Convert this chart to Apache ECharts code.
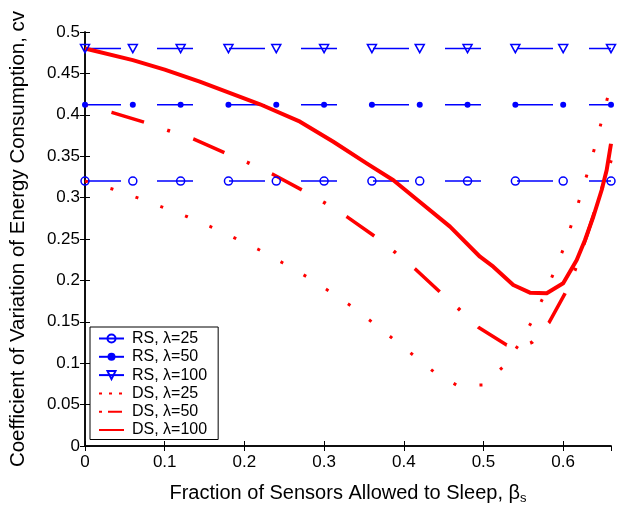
<!DOCTYPE html>
<html>
<head>
<meta charset="utf-8">
<script src="https://cdn.jsdelivr.net/npm/echarts@6/dist/echarts.min.js"></script>
<style>
html,body{margin:0;padding:0;background:#fff;}
#chart{width:621px;height:508px;}
</style>
</head>
<body>
<div id="chart"></div>
<script>
// ---- data ----
const seriesNames = ['RS, λ=25', 'RS, λ=50', 'RS, λ=100', 'DS, λ=25', 'DS, λ=50', 'DS, λ=100'];
const xTickValues = [0, 0.1, 0.2, 0.3, 0.4, 0.5, 0.6];
const yTickValues = [0, 0.05, 0.1, 0.15, 0.2, 0.25, 0.3, 0.35, 0.4, 0.45, 0.5];

const xRS = [0, 0.06, 0.12, 0.18, 0.24, 0.30, 0.36, 0.42, 0.48, 0.54, 0.60, 0.66];
const rs25 = [0.32, 0.32, 0.32, 0.32, 0.32, 0.32, 0.32, 0.32, 0.32, 0.32, 0.32, 0.32];
const rs50 = [0.412, 0.412, 0.412, 0.412, 0.412, 0.412, 0.412, 0.412, 0.412, 0.412, 0.412, 0.412];
const rs100 = [0.48, 0.48, 0.48, 0.48, 0.48, 0.48, 0.48, 0.48, 0.48, 0.48, 0.48, 0.48];

const xDS25 = [0, 0.0343, 0.0656, 0.0970, 0.1284, 0.1593, 0.1895, 0.2196, 0.2484, 0.2782, 0.3061, 0.3338, 0.3605, 0.3868, 0.4128, 0.4391, 0.4676, 0.4997, 0.5245, 0.5437, 0.5605, 0.5747, 0.5881, 0.6006, 0.6110, 0.6211, 0.6307, 0.6399, 0.6483, 0.6566, 0.66];
const ds25 = [0.32, 0.3104, 0.2999, 0.2886, 0.2769, 0.2641, 0.2504, 0.2364, 0.2210, 0.2045, 0.1872, 0.1691, 0.1494, 0.1292, 0.1091, 0.0885, 0.0728, 0.0737, 0.0954, 0.1216, 0.1501, 0.1791, 0.2089, 0.2388, 0.2693, 0.2999, 0.3306, 0.3615, 0.3929, 0.4243, 0.437];

const xDS50 = [0, 0.0335, 0.0744, 0.1045, 0.1359, 0.1757, 0.2049, 0.235, 0.2726, 0.3002, 0.3284, 0.3639, 0.389, 0.414, 0.4454, 0.4696, 0.494, 0.5291, 0.545, 0.5605, 0.5822, 0.6022, 0.615, 0.63, 0.645, 0.66];
const ds50 = [0.412, 0.403, 0.391, 0.381, 0.371, 0.354, 0.342, 0.3285, 0.309, 0.294, 0.277, 0.253, 0.234, 0.214, 0.186, 0.165, 0.143, 0.122, 0.119, 0.125, 0.149, 0.184, 0.213, 0.255, 0.300, 0.345];

const xDS100 = [0, 0.06, 0.1, 0.144, 0.2196, 0.2698, 0.3116, 0.3534, 0.387, 0.4172, 0.458, 0.4956, 0.5123, 0.5374, 0.5583, 0.5793, 0.600, 0.617, 0.6274, 0.6378, 0.6483, 0.6546, 0.66];
const ds100 = [0.48, 0.466, 0.4545, 0.440, 0.4127, 0.3917, 0.3675, 0.3414, 0.321, 0.2971, 0.2649, 0.2286, 0.2166, 0.1944, 0.1852, 0.1844, 0.1965, 0.2246, 0.2488, 0.2769, 0.3092, 0.3333, 0.365];

// ---- chart ----
const FONT = '"Liberation Sans", Arial, Helvetica, sans-serif';
const BLUE = '#0000ff';
const RED = '#ff0000';
const pairs = (xs, ys) => xs.map((x, i) => [x, ys[i]]);

const chart = echarts.init(document.getElementById('chart'), null, {renderer: 'canvas'});

const axisLineStyle = {color: '#000', width: 1.5};
const axisCommonX = {
  type: 'value', min: 0, max: 0.66, interval: 0.1,
  axisLine: {show: true, lineStyle: axisLineStyle},
  axisTick: {show: true, inside: true, length: 5, lineStyle: {color: '#000', width: 1}},
  splitLine: {show: false}
};
const axisCommonY = {
  type: 'value', min: 0, max: 0.5, interval: 0.05,
  axisLine: {show: true, lineStyle: axisLineStyle},
  axisTick: {show: true, inside: true, length: 5, lineStyle: {color: '#000', width: 1}},
  splitLine: {show: false}
};

const option = {
  animation: false,
  backgroundColor: '#fff',
  grid: {left: 85, right: 10, top: 32, bottom: 62, containLabel: false, outerBoundsMode: 'none'},
  xAxis: [
    Object.assign({}, axisCommonX, {
      position: 'bottom',
      axisLabel: {show: true, color: '#000', fontSize: 17, fontFamily: FONT, margin: 8, showMaxLabel: false,
        formatter: v => (xTickValues.some(t => Math.abs(t - v) < 1e-9) ? String(+v.toFixed(2)) : '')},
      name: '{a|Fraction of Sensors Allowed to Sleep, β}{s|s}',
      nameLocation: 'middle', nameGap: 36,
      nameTextStyle: {color: '#000', fontSize: 20, fontFamily: FONT,
        rich: {a: {fontSize: 20, fontFamily: FONT, color: '#000'},
               s: {fontSize: 13, fontFamily: FONT, color: '#000', padding: [10, 0, 0, 0]}}}
    }),
    Object.assign({}, axisCommonX, {position: 'top', axisLabel: {show: false}})
  ],
  yAxis: [
    Object.assign({}, axisCommonY, {
      position: 'left',
      axisLabel: {show: true, color: '#000', fontSize: 17, fontFamily: FONT, margin: 5,
        formatter: v => (yTickValues.some(t => Math.abs(t - v) < 1e-9) ? String(+v.toFixed(2)) : '')},
      name: 'Coefficient of Variation of Energy Consumption, cv',
      nameLocation: 'middle', nameGap: 56,
      nameTextStyle: {color: '#000', fontSize: 20.5, fontFamily: FONT}
    }),
    Object.assign({}, axisCommonY, {position: 'right', axisLabel: {show: false}})
  ],
  legend: {
    orient: 'vertical', left: 90, top: 327,
    padding: [3.5, 11, 1.5, 8],
    itemWidth: 25, itemHeight: 10, itemGap: 2.3,
    backgroundColor: '#fff', borderColor: '#000', borderWidth: 1, borderRadius: 0,
    selectedMode: false,
    textStyle: {fontSize: 16, color: '#000', fontFamily: FONT, padding: [0, 0, 0, 3]},
    data: [
      {name: seriesNames[0]},
      {name: seriesNames[1]},
      {name: seriesNames[2]},
      {name: seriesNames[3], lineStyle: {type: [3, 7]}, itemStyle: {opacity: 0}},
      {name: seriesNames[4], lineStyle: {type: [3, 6, 14, 10]}, itemStyle: {opacity: 0}},
      {name: seriesNames[5], itemStyle: {opacity: 0}}
    ]
  },
  series: [
    {
      name: seriesNames[0], type: 'line', data: pairs(xRS, rs25),
      symbol: 'circle', symbolSize: 8, showAllSymbol: true,
      itemStyle: {color: 'transparent', borderColor: BLUE, borderWidth: 1.5},
      lineStyle: {color: BLUE, width: 1.5, type: [36, 36], cap: 'butt'}
    },
    {
      name: seriesNames[1], type: 'line', data: pairs(xRS, rs50),
      symbol: 'circle', symbolSize: 6, showAllSymbol: true,
      itemStyle: {color: BLUE, borderWidth: 0},
      lineStyle: {color: BLUE, width: 1.5, type: [36, 36], cap: 'butt'}
    },
    {
      name: seriesNames[2], type: 'line', data: pairs(xRS, rs100),
      symbol: 'triangle', symbolRotate: 180, symbolSize: [9, 8], showAllSymbol: true,
      itemStyle: {color: 'transparent', borderColor: BLUE, borderWidth: 1.5},
      lineStyle: {color: BLUE, width: 1.5, type: [36, 36], cap: 'butt'}
    },
    {
      name: seriesNames[3], type: 'line', data: pairs(xDS25, ds25),
      symbol: 'none', itemStyle: {color: RED},
      lineStyle: {color: RED, width: 3, type: [3, 23.5], cap: 'butt'}
    },
    {
      name: seriesNames[4], type: 'line', data: pairs(xDS50, ds50),
      symbol: 'none', itemStyle: {color: RED},
      lineStyle: {color: RED, width: 3.5, type: [3, 24.5, 34, 24.5], cap: 'butt'}
    },
    {
      name: seriesNames[5], type: 'line', data: pairs(xDS100, ds100),
      symbol: 'none', itemStyle: {color: RED},
      lineStyle: {color: RED, width: 4, type: 'solid', join: 'round'}
    }
  ]
};
chart.setOption(option);
</script>
</body>
</html>
